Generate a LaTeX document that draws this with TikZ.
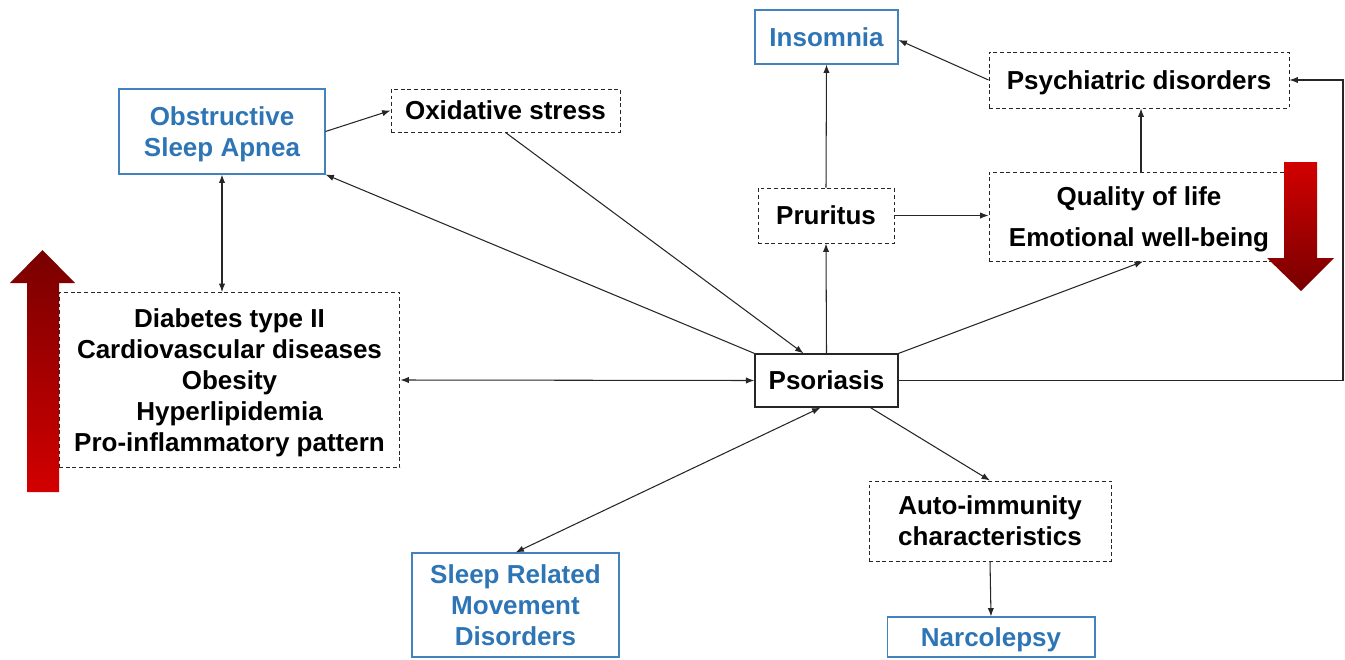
\documentclass[tikz,border=0pt]{standalone}
\usepackage{fontspec}
\setmainfont{Liberation Sans}
\usepackage{tikz}
\usetikzlibrary{arrows.meta,calc}
\definecolor{sleepblue}{RGB}{46,117,182}
\definecolor{darkred}{RGB}{120,0,0}
\definecolor{brightred}{RGB}{210,0,0}
\tikzset{
  box/.style={rectangle,align=center,inner sep=2pt,text depth=0pt,font=\bfseries\fontsize{14.8}{17.6}\selectfont},
  bluebox/.style={box,draw=sleepblue!90,text=sleepblue,line width=0.6pt},
  dashbox/.style={box,draw=black!85,dash pattern=on 2.2pt off 1.6pt,line width=0.55pt},
  solidbox/.style={box,draw=black!85,line width=0.7pt},
  link/.style={draw=black!85,line width=0.6pt,-{Latex[length=4.8pt,width=3.6pt]}},
  twolink/.style={link,{Latex[length=4.8pt,width=3.6pt]}-{Latex[length=4.8pt,width=3.6pt]}}
}

\begin{document}
\begin{tikzpicture}[x=0.02cm,y=-0.02cm]
  \useasboundingbox (0,0) rectangle (1345,659);

  \node[bluebox,minimum width=2.86cm,minimum height=1.08cm] (ins) at (826.5,37) {Insomnia};
  \node[dashbox,minimum width=6.0cm,minimum height=1.12cm] (psy) at (1139,80) {Psychiatric disorders};
  \node[bluebox,minimum width=4.12cm,minimum height=1.7cm] (osa) at (222,131.5) {Obstructive\\Sleep Apnea};
  \node[dashbox,minimum width=4.58cm,minimum height=0.86cm] (oxi) at (505.5,110.5) {Oxidative stress};
  \node[dashbox,minimum width=2.72cm,minimum height=1.1cm] (pru) at (826,215.5) {Pruritus};
  \node[dashbox,minimum width=6.0cm,minimum height=1.78cm] (qol) at (1139,216.5) {Quality of life\\[6pt]Emotional well-being};
  \node[dashbox,minimum width=6.82cm,minimum height=3.5cm] (dia) at (229.5,380)
    {Diabetes type II\\Cardiovascular diseases\\Obesity\\Hyperlipidemia\\Pro-inflammatory pattern};
  \node[solidbox,minimum width=2.86cm,minimum height=1.06cm] (pso) at (826.5,380.5) {Psoriasis};
  \node[dashbox,minimum width=4.84cm,minimum height=1.6cm] (aut) at (990,521) {Auto-immunity\\characteristics};
  \node[bluebox,minimum width=4.16cm,minimum height=0.8cm] (nar) at (991,637) {Narcolepsy};
  \node[bluebox,minimum width=4.14cm,minimum height=2.08cm] (srm) at (515.5,605) {Sleep Related\\Movement\\Disorders};
  \coordinate (turn) at (1343,80);

  \draw[twolink] (osa.south) -- (osa.south |- dia.north);
  \draw[link] (osa.east) -- (oxi.west);
  \draw[link] (oxi.south) -- ($(pso.north)+(-23,0)$);
  \draw[link] (pso.north west) -- (osa.south east);
  \draw[twolink] (dia.east) -- (pso.west);
  \draw[link] (pso.north) -- (pru.south);
  \draw[link] (pru.north) -- (ins.south);
  \draw[link] (pru.east) -- (pru.east -| qol.west);
  \draw[link] (pso.north east) -- ($(qol.south)+(4,0)$);
  \draw[link] ($(qol.north)+(2,0)$) -- ($(psy.south)+(2,0)$);
  \draw[link] (psy.west) -- ($(ins.east)+(0,3)$);
  \draw[link] (pso.east) -- (pso.east -| turn) -- (turn) -- (psy.east);
  \draw[twolink] ($(pso.south)+(-6,0)$) -- (srm.north);
  \draw[link] ($(pso.south)+(44,0)$) -- (aut.north);
  \draw[link] (aut.south) -- (nar.north);

  \shade[top color=darkred,bottom color=brightred]
    (27,492) -- (27,283) -- (10,283) -- (42.5,250) -- (75,283) -- (59,283) -- (59,492) -- cycle;
  \shade[top color=brightred,bottom color=darkred]
    (1284,162) -- (1317,162) -- (1317,258) -- (1334,258) -- (1301,291) -- (1267,258) -- (1284,258) -- cycle;
\end{tikzpicture}
\end{document}
